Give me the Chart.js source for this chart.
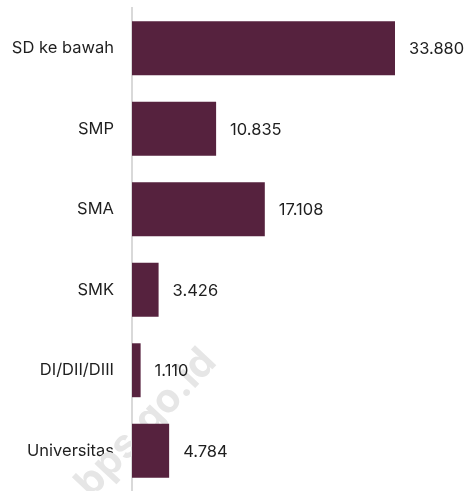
<!DOCTYPE html>
<html>
<head>
<meta charset="utf-8">
<script src="https://cdn.jsdelivr.net/npm/chart.js@4/dist/chart.umd.min.js"></script>
<style>
  html, body { margin: 0; padding: 0; background: #ffffff; }
  #wrap { width: 471px; height: 491px; position: relative; }
</style>
</head>
<body>
<div id="wrap"><canvas id="c"></canvas></div>
<script>
// Education level categories and counts
const categories = ['SD ke bawah', 'SMP', 'SMA', 'SMK', 'DI/DII/DIII', 'Universitas'];
const counts = [33880, 10835, 17108, 3426, 1110, 4784];

const BAR_COLOR = '#56223e';
const TEXT_COLOR = '#1f1f1f';
const FONT = 'Inter, "Noto Sans", sans-serif';

const fmt = v => v.toLocaleString('de-DE');

// Faint site mark drawn diagonally behind the bars
const watermark = {
  id: 'watermark',
  beforeDatasetsDraw(chart) {
    const ctx = chart.ctx;
    ctx.save();
    ctx.translate(146, 423);
    ctx.rotate(-0.82);
    ctx.font = 'bold 40px ' + FONT;
    ctx.fillStyle = '#e6e6e6';
    ctx.textAlign = 'center';
    ctx.textBaseline = 'middle';
    ctx.fillText('bps.go.id', 0, 0);
    ctx.restore();
  }
};

// Value labels to the right of each bar
const valueLabels = {
  id: 'valueLabels',
  afterDatasetsDraw(chart) {
    const ctx = chart.ctx;
    const meta = chart.getDatasetMeta(0);
    ctx.save();
    ctx.font = '16.5px ' + FONT;
    ctx.fillStyle = TEXT_COLOR;
    ctx.textAlign = 'left';
    ctx.textBaseline = 'middle';
    meta.data.forEach((bar, i) => {
      ctx.fillText(fmt(counts[i]), bar.x + 14, bar.y + 1);
    });
    ctx.restore();
  }
};

new Chart(document.getElementById('c'), {
  type: 'bar',
  data: {
    labels: categories,
    datasets: [{
      data: counts,
      backgroundColor: BAR_COLOR,
      borderWidth: 0,
      barPercentage: 0.67,
      categoryPercentage: 1.0
    }]
  },
  options: {
    indexAxis: 'y',
    responsive: true,
    maintainAspectRatio: false,
    animation: false,
    layout: { padding: { top: 8, right: 0, bottom: 0, left: 0 } },
    plugins: {
      legend: { display: false },
      tooltip: { enabled: false }
    },
    scales: {
      x: {
        display: false,
        min: 0,
        max: 43670
      },
      y: {
        afterFit(scale) {
          scale.width = 132;
          scale.paddingTop = 0;
          scale.paddingBottom = 0;
        },
        grid: { display: false, drawTicks: false },
        border: { display: true, color: '#d9d9d9', width: 2 },
        ticks: {
          color: TEXT_COLOR,
          padding: 18,
          font: { family: FONT, size: 16.5 }
        }
      }
    }
  },
  plugins: [watermark, valueLabels]
});
</script>
</body>
</html>
